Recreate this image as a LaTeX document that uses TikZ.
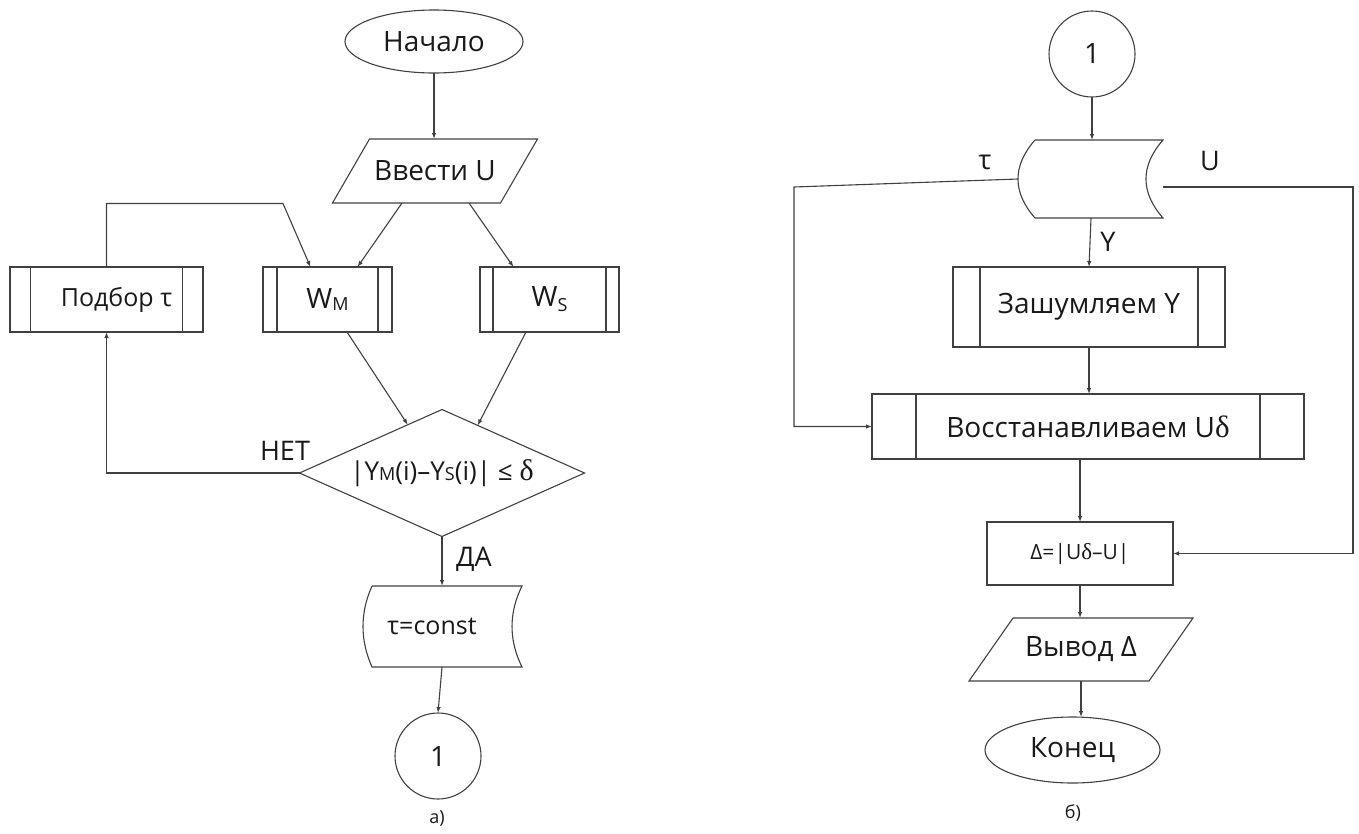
\documentclass[tikz,border=0pt]{standalone}
\usepackage{fontspec}
\setmainfont{Open Sans}
\newfontfamily\grserif{Liberation Serif}
\usetikzlibrary{shapes.geometric,arrows.meta,calc}
\begin{document}
\begin{tikzpicture}[x=1pt,y=-1pt,
  line/.style={draw=black!75,line width=1.1pt},
  arr/.style={line,-{Latex[length=6pt,width=4.5pt]}},
  big/.style={font=\fontsize{28}{32}\selectfont},
  mid/.style={font=\fontsize{25}{29}\selectfont},
  sml/.style={font=\fontsize{21}{25}\selectfont},
  lab/.style={font=\fontsize{27}{30}\selectfont},
  capt/.style={font=\fontsize{18}{21}\selectfont},
  base/.style={inner sep=0pt,outer sep=0pt,text=black!90},
  term/.style={base,big,line,ellipse},
  blank/.style={base,rectangle},
  proc/.style={base,line,rectangle},
  subproc/.style={base,line,rectangle,path picture={
    \draw[line] ([xshift=#1]path picture bounding box.north west) -- ([xshift=#1]path picture bounding box.south west)
                ([xshift=-#1]path picture bounding box.north east) -- ([xshift=-#1]path picture bounding box.south east);}},
  conn/.style={base,big,line,circle,minimum size=86pt},
  decision/.style={base,sml,line,diamond,aspect=2.244}
]
\useasboundingbox (0,0) rectangle (1359,833);

% ---------- a) ----------
\node[term,minimum width=178pt,minimum height=63pt] (start) at (434,41.5) {Начало};
\node[blank,big,minimum width=168pt,minimum height=64pt] (vvod) at (435,171) {Ввести U};
\draw[line] ([xshift=18.5pt]vvod.north west) -- ([xshift=18.5pt]vvod.north east)
  -- ([xshift=-18.5pt]vvod.south east) -- ([xshift=-18.5pt]vvod.south west) -- cycle;

\node[subproc=20.5pt,minimum width=193pt,minimum height=65pt,
  label={[base,mid,xshift=10pt]center:Подбор τ}] (podb) at (106.5,299.5) {};
\node[subproc=14pt,big,minimum width=129pt,minimum height=65pt] (wm) at (327.5,299.5) {W\raisebox{-2pt}{\fontsize{18}{18}\selectfont M}};
\node[subproc=13pt,big,minimum width=139pt,minimum height=65pt] (ws) at (549.5,299.5) {W\raisebox{-5pt}{\fontsize{18}{18}\selectfont S}};

\node[decision,minimum width=285pt,minimum height=127pt] (dia) at (442,473)
  {\fontsize{26}{28}\selectfont|Y{\fontsize{18}{18}\selectfont M}(i)–Y{\fontsize{18}{18}\selectfont S}(i)| ≤ {\grserif\fontsize{30}{30}\selectfont δ}};

\node[blank,minimum width=150pt,minimum height=81pt,
  label={[base,mid,xshift=-15pt]center:τ=const}] (tc) at (447,626.5) {};
\draw[line] (tc.north west) -- (tc.north east)
  .. controls ($(tc.north east)!0.33!(tc.south east)+(-13.3,0)$) and ($(tc.north east)!0.67!(tc.south east)+(-13.3,0)$) .. (tc.south east)
  -- (tc.south west)
  .. controls ($(tc.north west)!0.67!(tc.south west)+(-12,0)$) and ($(tc.north west)!0.33!(tc.south west)+(-12,0)$) .. (tc.north west);

\node[conn] (c1) at (438,756) {1};
\node[base,capt] (capa) at (437,818) {а)};

\node[base,lab] (net) at (285,451) {НЕТ};
\node[base,lab] (da) at (474,559) {ДА};

\coordinate (pk) at (283,203.5);
\draw[arr] (start.south) -- (start.south |- vvod.north);
\draw[arr] ([xshift=-33pt]vvod.south) -- ([xshift=30pt]wm.north);
\draw[arr] ([xshift=34pt]vvod.south) -- ([xshift=-36pt]ws.north);
\draw[arr] (podb.north) |- (pk) -- ([xshift=-17pt]wm.north);
\draw[arr] ([xshift=19.5pt]wm.south) -- ($(dia.north)!0.24!(dia.west)$);
\draw[arr] ([xshift=-23.5pt]ws.south) -- ($(dia.north)!0.25!(dia.east)$);
\draw[arr] (dia.west) -| (podb.south);
\draw[arr] (dia.south) -- (dia.south |- tc.north);
\draw[arr] (dia.south |- tc.south) -- (c1.north);

% ---------- б) ----------
\node[conn] (c2) at (1092,54) {1};
\node[blank,minimum width=128pt,minimum height=78pt] (st) at (1099,179) {};
\draw[line] (st.north west) -- (st.north east)
  .. controls ($(st.north east)!0.33!(st.south east)+(-22.7,0)$) and ($(st.north east)!0.67!(st.south east)+(-22.7,0)$) .. (st.south east)
  -- (st.south west)
  .. controls ($(st.north west)!0.67!(st.south west)+(-22.7,0)$) and ($(st.north west)!0.33!(st.south west)+(-22.7,0)$) .. (st.north west);
\node[base,lab] (ltau) at (985,162) {τ};
\node[base,lab] (lu) at (1210,161) {U};
\node[base,lab] (ly) at (1108,242) {Y};

\node[subproc=27pt,big,minimum width=272pt,minimum height=80pt] (zash) at (1089,307) {Зашумляем Y};
\node[subproc=44pt,big,minimum width=432pt,minimum height=65pt] (vost) at (1088,426.5) {Восстанавливаем U{\grserif\fontsize{31}{31}\selectfont δ}};
\node[proc,sml,minimum width=186pt,minimum height=63pt] (delta) at (1080,553.5) {Δ=|U{\grserif\fontsize{23}{23}\selectfont δ}–U|};
\node[blank,big,minimum width=180pt,minimum height=63pt] (vyv) at (1081,649.5) {Вывод Δ};
\draw[line] ([xshift=22pt]vyv.north west) -- ([xshift=22pt]vyv.north east)
  -- ([xshift=-22pt]vyv.south east) -- ([xshift=-22pt]vyv.south west) -- cycle;
\node[term,minimum width=175pt,minimum height=66pt] (kon) at (1072.5,750) {Конец};
\node[base,capt] (capb) at (1073,813) {б)};

\coordinate (tk) at (794,187);
\coordinate (uk) at (1353,187);
\draw[arr] (c2.south) -- (c2.south |- st.north);
\draw[arr] ([xshift=-17pt]st.west) -- (tk) |- (vost.west);
\draw[arr] ([yshift=-8pt]st.east) -- (uk) |- (delta.east);
\draw[arr] ([xshift=-8pt]st.south) -- (zash.north);
\draw[arr] (zash.south) -- (zash.south |- vost.north);
\draw[arr] (delta.north |- vost.south) -- (delta.north);
\draw[arr] (delta.south) -- (delta.south |- vyv.north);
\draw[arr] (vyv.south) -- (vyv.south |- kon.north);
\end{tikzpicture}
\end{document}
